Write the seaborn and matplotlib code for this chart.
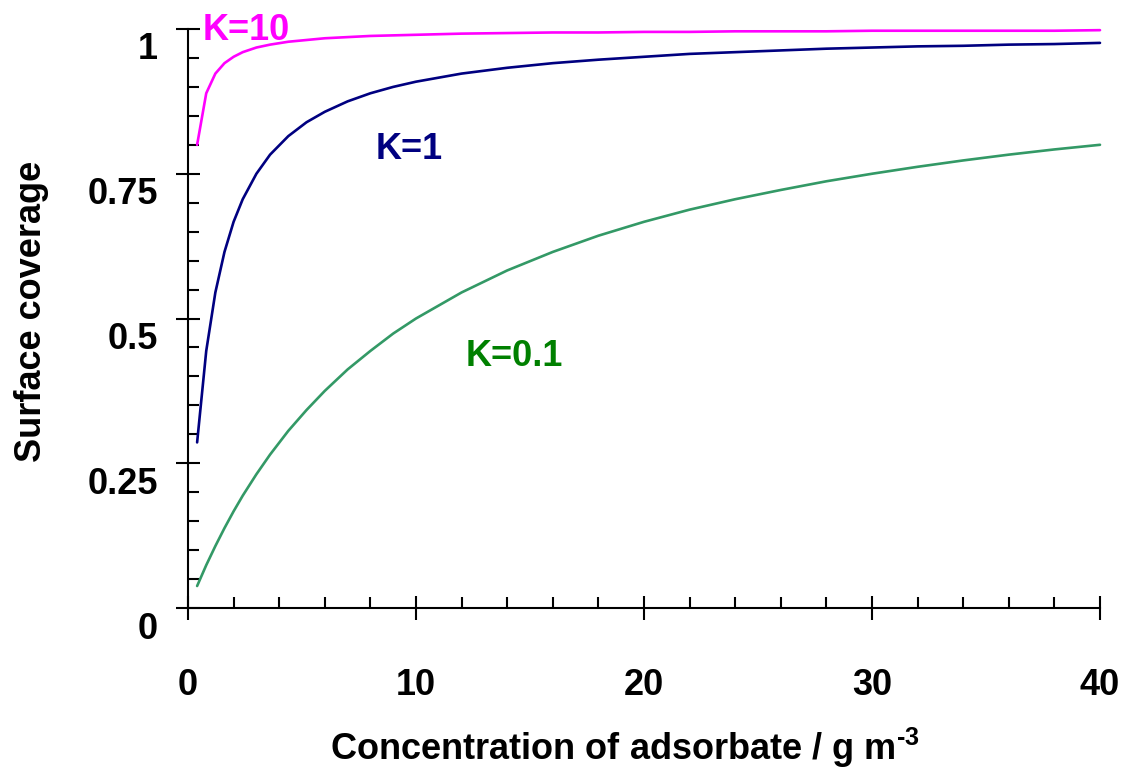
import matplotlib
matplotlib.use("Agg")
import matplotlib.pyplot as plt
import matplotlib.transforms as mtransforms
from matplotlib.ticker import MultipleLocator
import numpy as np
import pandas as pd
import seaborn as sns

# Concentration of adsorbate (g m^-3)
conc = [0.4, 0.8, 1.2, 1.6, 2, 2.4, 3, 3.6, 4.4, 5.2, 6, 7, 8, 9, 10,
        12, 14, 16, 18, 20, 22, 24, 26, 28, 30, 32, 34, 36, 38, 40]

# Surface coverage for each adsorption constant
cov_k10 = [0.800, 0.889, 0.923, 0.941, 0.952, 0.960, 0.968, 0.973, 0.978, 0.981,
           0.984, 0.986, 0.988, 0.989, 0.990, 0.992, 0.993, 0.994, 0.994, 0.995,
           0.995, 0.996, 0.996, 0.996, 0.997, 0.997, 0.997, 0.997, 0.997, 0.998]
cov_k1 = [0.286, 0.444, 0.545, 0.615, 0.667, 0.706, 0.750, 0.783, 0.815, 0.839,
          0.857, 0.875, 0.889, 0.900, 0.909, 0.923, 0.933, 0.941, 0.947, 0.952,
          0.957, 0.960, 0.963, 0.966, 0.968, 0.970, 0.971, 0.973, 0.974, 0.976]
cov_k01 = [0.038, 0.074, 0.107, 0.138, 0.167, 0.194, 0.231, 0.265, 0.306, 0.342,
           0.375, 0.412, 0.444, 0.474, 0.500, 0.545, 0.583, 0.615, 0.643, 0.667,
           0.688, 0.706, 0.722, 0.737, 0.750, 0.762, 0.773, 0.783, 0.792, 0.800]

series_names = ["K=10", "K=1", "K=0.1"]
line_colors = ["#FF00FF", "#000080", "#339966"]
label_colors = ["#FF00FF", "#000080", "#008000"]
label_pos = [(0.63, 0.981), (8.21, 0.7755), (12.16, 0.418)]

x_ticks = [0, 10, 20, 30, 40]
y_ticks = [0, 0.25, 0.5, 0.75, 1]
y_tick_labels = ["0", "0.25", "0.5", "0.75", "1"]

df = pd.concat([
    pd.DataFrame({"conc": conc, "coverage": vals, "series": name})
    for name, vals in zip(series_names, [cov_k10, cov_k1, cov_k01])
])

sns.set_style("white")
plt.rcParams["font.family"] = ["Liberation Sans", "DejaVu Sans"]
plt.rcParams["font.weight"] = "bold"
plt.rcParams["text.color"] = "black"
plt.rcParams["axes.labelcolor"] = "black"
plt.rcParams["mathtext.fontset"] = "custom"
plt.rcParams["mathtext.rm"] = "Liberation Sans:bold"
plt.rcParams["mathtext.bf"] = "Liberation Sans:bold"
plt.rcParams["mathtext.default"] = "bf"

fig = plt.figure(figsize=(11.26, 7.69), dpi=100)
ax = fig.add_axes([0.16696, 0.20936, 0.80995, 0.75293])

for name, col in zip(series_names, line_colors):
    sub = df[df["series"] == name]
    sns.lineplot(data=sub, x="conc", y="coverage", color=col, linewidth=1.9,
                 ax=ax, clip_on=False)

for name, col, (tx, ty) in zip(series_names, label_colors, label_pos):
    ax.text(tx, ty, name, color=col, fontsize=26, fontweight="bold",
            ha="left", va="baseline")

ax.set_xlim(0, 40)
ax.set_ylim(0, 1)

for s in ["top", "right"]:
    ax.spines[s].set_visible(False)
for s in ["left", "bottom"]:
    ax.spines[s].set_linewidth(1.5)
    ax.spines[s].set_color("black")

ax.set_xticks(x_ticks)
ax.set_xticklabels([str(v) for v in x_ticks])
ax.set_yticks(y_ticks)
ax.set_yticklabels(y_tick_labels)
ax.xaxis.set_minor_locator(MultipleLocator(2))
ax.yaxis.set_minor_locator(MultipleLocator(0.05))

ax.tick_params(axis="x", which="both", bottom=True, top=False)
ax.tick_params(axis="y", which="both", left=True, right=False)
ax.tick_params(axis="x", which="major", direction="inout", length=16.6,
               width=1.5, pad=34.9, labelsize=26, colors="black")
ax.tick_params(axis="y", which="major", direction="inout", length=16.6,
               width=1.5, pad=13.3, labelsize=26, colors="black")
ax.tick_params(axis="both", which="minor", direction="in", length=7.9,
               width=1.5, colors="black")

for lab in ax.get_xticklabels() + ax.get_yticklabels():
    lab.set_fontweight("bold")

# y tick labels sit a little below their ticks
shift = mtransforms.ScaledTranslation(0, -17 / 100, fig.dpi_scale_trans)
for tick in ax.yaxis.get_major_ticks():
    tick.label1.set_transform(tick.label1.get_transform() + shift)

ax.set_xlabel(r"Concentration of adsorbate / g m$^{\text{-3}}$", fontsize=26,
              fontweight="bold", va="baseline", color="black")
ax.xaxis.set_label_coords(0.479, -0.262)
ax.set_ylabel("Surface coverage", fontsize=26, fontweight="bold",
              va="baseline", color="black")
ax.yaxis.set_label_coords(-0.161, 0.513)

fig.savefig("out.png", dpi=100)
